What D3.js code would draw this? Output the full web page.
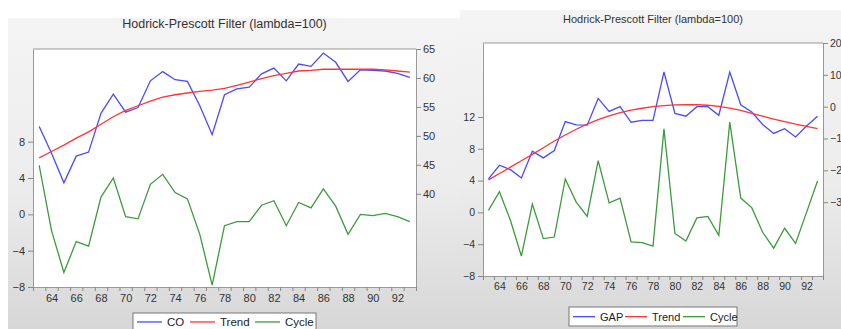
<!DOCTYPE html>
<html>
<head>
<meta charset="utf-8">
<script src="https://cdn.jsdelivr.net/npm/d3@7"></script>
<style>
  html, body { margin: 0; padding: 0; background: #fff; }
  svg { display: block; font-family: "Liberation Sans", Arial, sans-serif; }
</style>
</head>
<body>
<svg id="chart" width="841" height="329"></svg>
<script>
// Years shown on the horizontal axis (1963–1993)
const years = [63,64,65,66,67,68,69,70,71,72,73,74,75,76,77,78,79,80,81,82,83,84,85,86,87,88,89,90,91,92,93];
const yearLabels = [64,66,68,70,72,74,76,78,80,82,84,86,88,90,92];

// Panel 1: CO with its HP trend (right scale) and cycle (left scale)
const coValues    = [51.6,47.0,41.9,46.5,47.2,53.9,57.2,54.1,54.9,59.5,61.1,59.7,59.4,55.2,50.2,57.1,58.1,58.4,60.7,61.7,59.5,62.4,62.0,64.3,62.7,59.4,61.4,61.3,61.2,60.8,60.1];
const coTrend     = [46.2,47.3,48.4,49.6,50.7,52.0,53.3,54.4,55.2,56.0,56.7,57.1,57.4,57.7,57.9,58.2,58.7,59.3,59.9,60.4,60.8,61.2,61.3,61.5,61.5,61.5,61.5,61.5,61.4,61.2,61.0];
const coCycle     = [5.4,-1.8,-6.4,-3.0,-3.5,1.9,4.0,-0.25,-0.5,3.3,4.4,2.4,1.7,-2.2,-7.8,-1.25,-0.8,-0.8,1.0,1.5,-1.25,1.3,0.7,2.8,0.9,-2.2,0.0,-0.15,0.1,-0.25,-0.8];
const coLeftTicks  = [-8,-4,0,4,8];
const coRightTicks = [40,45,50,55,60,65];

// Panel 2: GAP with its HP trend (right scale) and cycle (left scale)
const gapValues   = [-22.7,-18.4,-19.8,-22.4,-14.0,-16.1,-13.8,-4.7,-5.7,-5.8,2.6,-1.5,0.0,-4.9,-4.3,-4.3,10.9,-2.1,-3.0,0.0,0.0,-2.7,10.9,0.6,-1.7,-5.6,-8.4,-6.9,-9.5,-6.1,-3.0];
const gapTrend    = [-23.0,-21.0,-19.0,-17.0,-15.0,-12.9,-10.8,-8.9,-7.1,-5.5,-4.1,-2.9,-1.9,-1.1,-0.5,0.0,0.35,0.55,0.65,0.6,0.45,0.1,-0.45,-1.2,-2.1,-3.0,-3.9,-4.7,-5.5,-6.2,-6.9];
const gapCycle    = [0.25,2.6,-1.0,-5.5,1.05,-3.3,-3.1,4.2,1.3,-0.5,6.5,1.2,1.8,-3.7,-3.8,-4.25,10.5,-2.65,-3.6,-0.7,-0.5,-2.9,11.35,1.8,0.6,-2.5,-4.5,-2.0,-3.9,0.0,3.95];
const gapLeftTicks  = [-8,-4,0,4,8,12];
const gapRightTicks = [-30,-20,-10,0,10,20];

const titleText = "Hodrick-Prescott Filter (lambda=100)";
const colors = { series: "#4a4aff", trend: "#ff3434", cycle: "#3d9a3d" };

const svg = d3.select("#chart");

// Soft vertical gradient used behind each chart panel
const defs = svg.append("defs");
const grad = defs.append("linearGradient").attr("id", "panelBg")
  .attr("x1", 0).attr("y1", 0).attr("x2", 0).attr("y2", 1);
grad.append("stop").attr("offset", "0%").attr("stop-color", "#f4f4f4");
grad.append("stop").attr("offset", "55%").attr("stop-color", "#ececec");
grad.append("stop").attr("offset", "100%").attr("stop-color", "#d7d7d7");

function drawPanel(cfg) {
  const g = svg.append("g");
  g.append("rect")
    .attr("x", cfg.panel[0]).attr("y", cfg.panel[1])
    .attr("width", cfg.panel[2]).attr("height", cfg.panel[3])
    .attr("fill", "url(#panelBg)");

  const [x0, x1, y0, y1] = cfg.plot;

  const x = d3.scaleLinear().domain([years[0] - 0.5, years[years.length - 1] + 0.5]).range([x0, x1]);
  const yL = d3.scaleLinear().domain(cfg.leftDomain).range([y1, y0]);
  const yR = d3.scaleLinear().domain(cfg.rightDomain).range([y1, y0]);

  g.append("text")
    .attr("x", (x0 + x1) / 2).attr("y", cfg.titleY)
    .attr("text-anchor", "middle")
    .attr("font-size", cfg.titleSize).attr("fill", "#333")
    .text(titleText);

  g.append("rect")
    .attr("x", x0).attr("y", y0).attr("width", x1 - x0).attr("height", y1 - y0)
    .attr("fill", "#fff");

  const styleAxis = sel => {
    sel.selectAll("path.domain").attr("stroke", "#999");
    sel.selectAll(".tick line").attr("stroke", "#888");
    sel.selectAll(".tick text").attr("fill", "#333").attr("font-size", cfg.tickSize)
      .attr("font-family", "Liberation Sans, Arial, sans-serif");
  };

  // Left scale (cycle)
  g.append("g").attr("transform", `translate(${x0},0)`)
    .call(d3.axisLeft(yL).tickValues(cfg.leftTicks).tickSize(5).tickPadding(3).tickSizeOuter(0))
    .call(styleAxis);

  // Right scale (series and trend)
  g.append("g").attr("transform", `translate(${x1},0)`)
    .call(d3.axisRight(yR).tickValues(cfg.rightTicks).tickSize(5).tickPadding(2).tickSizeOuter(0))
    .call(styleAxis);

  // Year ticks on the boundaries between years, labels at every second year
  const boundaries = [years[0] - 0.5].concat(years.map(v => v + 0.5));
  g.append("g").attr("transform", `translate(0,${y1})`)
    .call(d3.axisBottom(x).tickValues(boundaries).tickSize(4).tickFormat("").tickSizeOuter(0))
    .call(styleAxis);
  g.append("g").attr("transform", `translate(0,${y1})`)
    .call(d3.axisBottom(x).tickValues(yearLabels).tickSize(0).tickPadding(cfg.labelPad).tickFormat(d => String(d)))
    .call(styleAxis)
    .call(s => s.select("path.domain").remove());

  // Top edge of the frame
  g.append("line").attr("x1", x0).attr("x2", x1).attr("y1", y0).attr("y2", y0)
    .attr("stroke", "#999");

  const lineR = d3.line().x((d, i) => x(years[i])).y(d => yR(d));
  const lineL = d3.line().x((d, i) => x(years[i])).y(d => yL(d));

  g.append("path").datum(cfg.cycle).attr("d", lineL)
    .attr("fill", "none").attr("stroke", colors.cycle).attr("stroke-width", 1.3);
  g.append("path").datum(cfg.series).attr("d", lineR)
    .attr("fill", "none").attr("stroke", colors.series).attr("stroke-width", 1.3);
  g.append("path").datum(cfg.trend).attr("d", lineR)
    .attr("fill", "none").attr("stroke", colors.trend).attr("stroke-width", 1.3);

  // Legend
  const lg = cfg.legend;
  g.append("rect").attr("x", lg.x).attr("y", lg.y).attr("width", lg.w).attr("height", lg.h)
    .attr("fill", "#fff").attr("stroke", "#777");
  const items = [
    { name: cfg.seriesName, color: colors.series },
    { name: "Trend", color: colors.trend },
    { name: "Cycle", color: colors.cycle }
  ];
  items.forEach((it, i) => {
    const sx = lg.itemX[i];
    g.append("line").attr("x1", sx).attr("x2", sx + lg.lineLen)
      .attr("y1", lg.textY - lg.fontSize * 0.35).attr("y2", lg.textY - lg.fontSize * 0.35)
      .attr("stroke", it.color).attr("stroke-width", 1.3);
    g.append("text").attr("x", sx + lg.lineLen + 5).attr("y", lg.textY)
      .attr("font-size", lg.fontSize).attr("fill", "#222").text(it.name);
  });
}

drawPanel({
  panel: [8, 18, 452, 311],
  plot: [33, 416, 49, 287],
  leftDomain: [-8, 18.2],
  rightDomain: [23.9, 65],
  leftTicks: coLeftTicks,
  rightTicks: coRightTicks,
  series: coValues, trend: coTrend, cycle: coCycle,
  seriesName: "CO",
  titleY: 28, titleSize: 12.5, tickSize: 11, labelPad: 7,
  legend: { x: 133, y: 313, w: 183, h: 24, textY: 326, fontSize: 11.5, lineLen: 25, itemX: [137, 190, 255] }
});

drawPanel({
  panel: [460, 10, 381, 319],
  plot: [483, 823, 43, 276],
  leftDomain: [-8, 21.3],
  rightDomain: [-53.2, 20],
  leftTicks: gapLeftTicks,
  rightTicks: gapRightTicks,
  series: gapValues, trend: gapTrend, cycle: gapCycle,
  seriesName: "GAP",
  titleY: 23, titleSize: 11, tickSize: 10.5, labelPad: 7,
  legend: { x: 569, y: 307, w: 168, h: 19, textY: 320.5, fontSize: 11, lineLen: 22, itemX: [573, 625, 683] }
});
</script>
</body>
</html>
